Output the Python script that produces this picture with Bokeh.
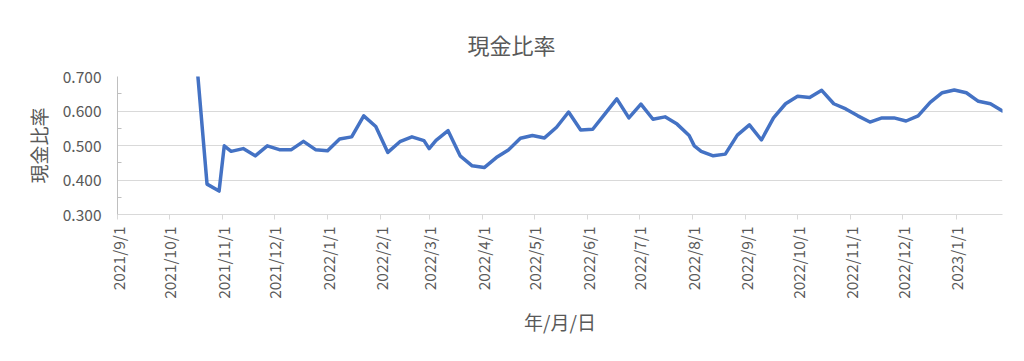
import pandas as pd
from bokeh.plotting import figure
from bokeh.models import Range1d, FixedTicker, NumeralTickFormatter
from bokeh.embed import file_html
from bokeh.resources import INLINE

# ---- data ----
dates = [
    "2021-10-16", "2021-10-23", "2021-10-30", "2021-11-02", "2021-11-06", "2021-11-13",
    "2021-11-20", "2021-11-27", "2021-12-04", "2021-12-11", "2021-12-18", "2021-12-25",
    "2022-01-01", "2022-01-08", "2022-01-15", "2022-01-22", "2022-01-29", "2022-02-05",
    "2022-02-12", "2022-02-19", "2022-02-26", "2022-03-01", "2022-03-05", "2022-03-12",
    "2022-03-19", "2022-03-26", "2022-04-02", "2022-04-09", "2022-04-16", "2022-04-23",
    "2022-04-30", "2022-05-07", "2022-05-14", "2022-05-21", "2022-05-28", "2022-06-04",
    "2022-06-11", "2022-06-18", "2022-06-25", "2022-07-02", "2022-07-09", "2022-07-16",
    "2022-07-23", "2022-07-30", "2022-08-02", "2022-08-06", "2022-08-13", "2022-08-20",
    "2022-08-27", "2022-09-03", "2022-09-10", "2022-09-17", "2022-09-24", "2022-10-01",
    "2022-10-08", "2022-10-15", "2022-10-22", "2022-10-29", "2022-11-05", "2022-11-12",
    "2022-11-19", "2022-11-26", "2022-12-03", "2022-12-10", "2022-12-17", "2022-12-24",
    "2022-12-31", "2023-01-07", "2023-01-14", "2023-01-21", "2023-01-28",
]
cash_ratio = [
    0.800, 0.388, 0.368, 0.499, 0.483, 0.491,
    0.470, 0.499, 0.488, 0.488, 0.512, 0.488,
    0.485, 0.519, 0.525, 0.586, 0.555, 0.480,
    0.511, 0.525, 0.514, 0.491, 0.515, 0.543,
    0.470, 0.441, 0.436, 0.465, 0.487, 0.521,
    0.529, 0.522, 0.553, 0.597, 0.545, 0.547,
    0.591, 0.635, 0.580, 0.620, 0.576, 0.583,
    0.562, 0.529, 0.499, 0.483, 0.470, 0.475,
    0.530, 0.560, 0.516, 0.580, 0.621, 0.643,
    0.639, 0.660, 0.621, 0.606, 0.586, 0.568,
    0.580, 0.580, 0.571, 0.586, 0.625, 0.653,
    0.661, 0.653, 0.628, 0.621, 0.600,
]
tick_labels = [
    "2021/9/1", "2021/10/1", "2021/11/1", "2021/12/1", "2022/1/1", "2022/2/1",
    "2022/3/1", "2022/4/1", "2022/5/1", "2022/6/1", "2022/7/1", "2022/8/1",
    "2022/9/1", "2022/10/1", "2022/11/1", "2022/12/1", "2023/1/1",
]
y_ticks = [0.3, 0.4, 0.5, 0.6, 0.7]
y_minor_ticks = [0.35, 0.45, 0.55, 0.65]
x_start, x_end = "2021-09-01", "2023-01-28"
y_start, y_end = 0.3, 0.7

title_text = "現金比率"
y_label = "現金比率"
x_label = "年/月/日"

# ---- build ----
FONT = "Noto Sans CJK JP"
TXT = "#595959"
BLUE = "#4472C4"

x = pd.to_datetime(dates)
tick_dt = pd.to_datetime(tick_labels, format="%Y/%m/%d")
tick_ms = [float(t.value // 10**6) for t in tick_dt]

p = figure(
    width=1008, height=345,
    x_axis_type="datetime",
    x_range=Range1d(pd.Timestamp(x_start), pd.Timestamp(x_end)),
    y_range=Range1d(y_start, y_end),
    output_backend="svg", toolbar_location=None,
    min_border_left=117, min_border_right=6,
    min_border_top=76, min_border_bottom=131,
    title=title_text,
)
p.outline_line_color = None
p.background_fill_color = "white"
p.border_fill_color = "white"

p.title.align = "left"
p.title.offset = 350
p.title.vertical_align = "top"
p.title.text_font = FONT
p.title.text_font_size = "22px"
p.title.text_font_style = "normal"
p.title.text_color = TXT
p.title.standoff = 30

p.line(x, cash_ratio, line_color=BLUE, line_width=3.5, line_join="round", line_cap="round")

# x axis
xa = p.xaxis[0]
xa.ticker = FixedTicker(ticks=tick_ms, minor_ticks=[])
xa.major_label_overrides = {ms: lab for ms, lab in zip(tick_ms, tick_labels)}
xa.major_label_orientation = 3.14159265 / 2
xa.major_label_text_font = FONT
xa.major_label_text_font_size = "15.5px"
xa.major_label_text_color = TXT
xa.major_label_standoff = 7
xa.major_tick_out = 5
xa.major_tick_in = 0
xa.major_tick_line_color = "#D9D9D9"
xa.minor_tick_line_color = None
xa.axis_line_color = "#D9D9D9"
xa.axis_label = x_label
xa.axis_label_text_font = FONT
xa.axis_label_text_font_size = "19px"
xa.axis_label_text_font_style = "normal"
xa.axis_label_text_color = TXT
xa.axis_label_standoff = 6

# y axis
ya = p.yaxis[0]
ya.ticker = FixedTicker(ticks=y_ticks, minor_ticks=y_minor_ticks)
ya.formatter = NumeralTickFormatter(format="0.000")
ya.major_label_text_font = FONT
ya.major_label_text_font_size = "15.5px"
ya.major_label_text_color = TXT
ya.major_label_standoff = 16
ya.major_tick_out = 0
ya.major_tick_in = 0
ya.minor_tick_in = 4
ya.minor_tick_out = 0
ya.minor_tick_line_color = "#BFBFBF"
ya.axis_line_color = "#BFBFBF"
ya.axis_label = y_label
ya.axis_label_text_font = FONT
ya.axis_label_text_font_size = "19px"
ya.axis_label_text_font_style = "normal"
ya.axis_label_text_color = TXT
ya.axis_label_standoff = 8

p.xgrid.grid_line_color = None
p.ygrid.grid_line_color = "#D9D9D9"
p.ygrid.grid_line_width = 1

open("out.html", "w").write(file_html(p, INLINE))
